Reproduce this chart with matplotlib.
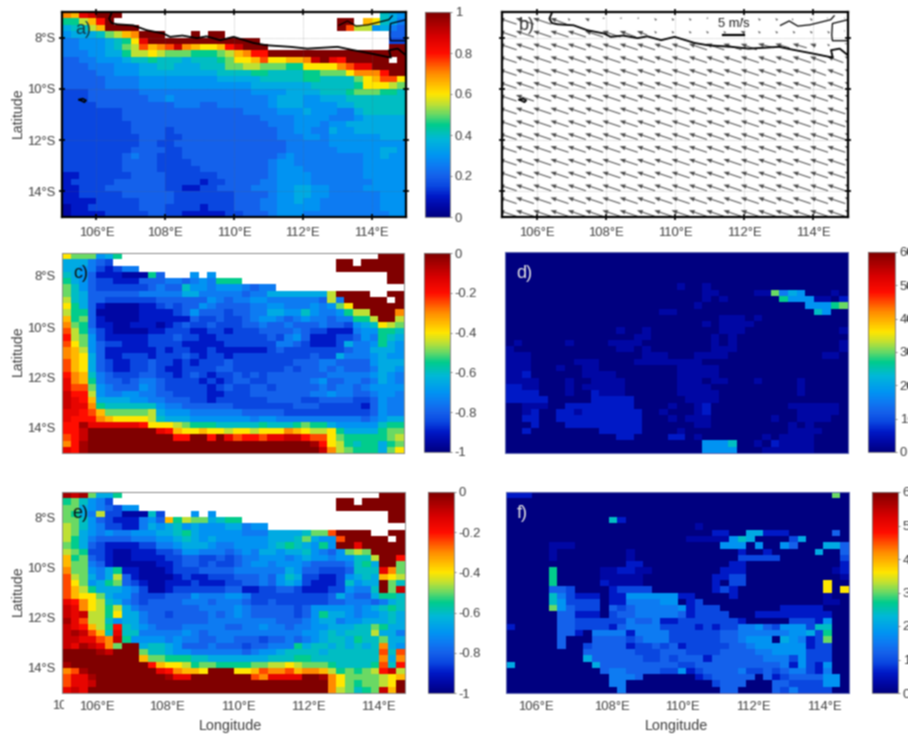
import numpy as np
import matplotlib
matplotlib.use('Agg')
import matplotlib.pyplot as plt
from matplotlib.colors import LinearSegmentedColormap
from matplotlib.transforms import Bbox

plt.rcParams['font.family'] = ['Liberation Sans', 'DejaVu Sans']

# grid cells, one string per 0.25 deg of latitude
# a=0, b=0.05 ... u=1 of the colour range, '.' = no data, missing tail = last char
chl_rows = [
 "onrsuuu... .......... .......... .......ihg",
 "jjlnqu.... .......... .......... ..uu.nmihf",
 "hiilnuuuu. .......... .......... ..upllghfe",
 "ghhhiklnou uu...u.uu. .......... ........ee",
 "ffggghijmr uuuuuuuuuu uuu....... ........dd",
 "ffggghiklp nopsonmmnq suuu...... ........uu",
 "fffgghhjll mlkkkjjjkl noqquuuuuu uuuuuuuuuu",
 "eeffggghii jiiihiiijk mmnpmmnnos urquuuuu.u",
 "eeefffgggh hiihhhiiik kllkkkjjmm mmoprruuuu",
 "eeeeffgggh hhhhhhhhii iijjiiiijj kkkmoooquu",
 "eeeeeffffg gggggggghh hhhiiiiijj iiiikmnppm",
 "eeeeeffffg gggggggggg gghhhhhhhi iiiijmmmlk",
 "dddeeeeeef ffffffffff ffggggh hhhiii jkkkjji",
 "dddeeeeeee ffgfffffff ffffghhhgg hhhiiiiiii",
 "ddddeeeeee eeefffeeff ffffghhhgg gghhiiiiii",
 "dddddddeee eeeeeeeeee effffggghg ggffhiiiii",
 "dddddddeee eeeeeeeeee eeeffffggg gfffghhhhh",
 "ddddddddee eeeeeeeeee eeeefffggg fgghhhhhhh",
 "dddddddde eeedeeeeeee eeeeeffggf fhgghhhhhh",
 "ddddddddde eedde eeeee eeeeefffgg fgggggghhh",
 "ddddddddde edde eeeeee eeeeeefffff ggggggggg",
 "ddddddddee eeddeeeeee eeeeeeffff ffggggghhg",
 "dddddddefe edddeeeeee eeeeefgfff fffffgghgg",
 "dddddddeee edddde eeee eeeefggfff fffffggggg",
 "dddddddeee eddddde eee eeeefgggff fffffggggg",
 "ccddddddee eeddddddee eeeefggggf fffffggggg",
 "cddddde eeeeeddddcddeeeeffggggfffffffgggg",
 "ccdddeeeee eeddccddee eefffgghhg gffffggggg",
 "ccdddddeee eeeddddddd eeeefgghhg gffffffggg",
 "ccccddddde eeeddddd dd eeeffgghgg fffffffggg",
 "bccddddd de eeddddcddd eeeffggggg fffffffggg",
 "bccccddddd eeddcccccd deeefgggff ffffffffgg",
]
coef_rows = [
 "mkkkghj... .......... .......... .......uuu",
 "hhhfed.... .......... .......... ..uu.uuuuu",
 "hhgfdcdff. .......... .......... ..uuuuuuuu",
 "ihgecccbbb je...g.g.. .......... ........uu",
 "jhgeddccce eeffefgfjj j......... ........uu",
 "kigedddddd efeeiggfgg gfeff..... ..........",
 "kiheeeeeef ffffhhffff feffhhhhhh hluuuu..uu",
 "liheeddddd deeeeeegfe ffggffffff elfuuuuu.u",
 "mjhecbbbbc cdedeegfee eeffggfffg fgkmuuuuuu",
 "ljjebbbbbc cccdegeeed eeffhhggig ffgjlluuuo",
 "njkecbbbbc cccccedded defggfefgf feffjjluul",
 "okjeccbbcc cbcdeddedd deefeefeee feedghimlk",
 "pljfdcbbbb ccdddccddc dddeeeefed dcccfggjji",
 "qlkgdccccc dddeddccdd ddddedfgec ccddegfjih",
 "pmkgeddccc ddddcccccd dddddffedc ccdhffgjhg",
 "onlgeccccc cdcddccdcc ccccdedddd dddeffhhhg",
 "onmheccddd cdddedcddc ddddddddde ddhfffghgg",
 "pnmhedccdd eddcdcddde dddddddeee ffeeeeghhh",
 "pnmhedccdd edccddddee ddddddedee fefeeefhhg",
 "qonifeddde eddcdedcdd ededeeeeee efffffghgf",
 "ronjfeedef feddddcdcd eeddeeeeef geeffefhgf",
 "rppkgfeeeg fedddddcd edde edeeeee feffefgggg",
 "sqqlgffggf feeddddccd ddeeeeeeef fgffeefggf",
 "srqnhhhhgg ffeee ddcdd ddddeeeedd eeeedd egff",
 "srrojiiiii igffeeeeee dddddddeee dddddcegff",
 "rrqpnkkkkk lhgggffff ffeeeeeddd ddddddd egff",
 "rqqqonmmmm lihhhggggg ggfggfffff fffffefghh",
 "qqtrrrrrrq mmmlkjjjii iiijiiijkj jhgggggijj",
 "qqsuuuuuuu urqnmmnmml mmlmmmonml lmjhhhhjkk",
 "pqsuuuuuuu uuuqquuqur pqqprrssqp pmkjjjjjkl",
 "oqtuuuuuuu uuuuuuuuuu uuuuuuuuut qmljijjhjk",
 "rqtuuuuuuu uuuuuuuuuu uuuuuuuuuu solkjjjhkm",
]
speed_rows = [
 "a", "a", "a", "a", "a",
 "aaaaaaaaaa aaaaaaaaaa baabaaaaaa a",
 "aaaaaaaaaa aaaaaaaaaa aaabbaaaab bkfhgaaaba",
 "aaaaaaaaaa aaaaaaaaaa aaababaaaa aajgggbbac",
 "aaaaaaaaaa aaaaaaaaaa aabaaaaaaa aaaaagggjk",
 "aaaaaaaaaa aaaaaaaabb aaaaaaaaaa aaaaaaigaa",
 "aaaaaaaaaa aaaaaaaaaa aaaaabbbab aaaaaaaaaa",
 "aaaaaaaaaa aaaaaaaaaa aaababbbba aaaaaaaaaa",
 "aaaaaaaaaa aaabaabaaa aaaaabbbaa aaaaaaaaab",
 "aaaaaaaaaa aaaaabbaaa aaaababaaa aaaaaaaaaa",
 "abaaaaabaa aabbbbaaaa aaaababaaa aaaaaaaaab",
 "baaaaaaaaa aaabbabaaa aaaabbbaaa aaaaaaaaab",
 "bbbaaaaaaa aaaaaabbba aabbbbaaaa aaaaaaabba",
 "bbbaaaaabb baaaabbbbb bbbaaaaaaa aaaaaaaaaa",
 "bbbaaabaab baaaaaaaaa bbbbbaaaaa aaaaaaaaaa",
 "bbcaaaaaab bbbaaaaaaa bbbbbaaaaa aaaaaaaaaa",
 "bbbbaaabaa bbbbaaaaaa bbbabbaaab aaaabaaaaa",
 "ccbbaaabab bbbbaaaaaa bbbbaaaaaa aaaabaaaaa",
 "ccccaaabaa cbbbaaaaaa bbbbbaaaaa aaaabaaaaa",
 "cccccaaaaa cccccaaaaa abbbbaaaaa aaaaaaaaaa",
 "aabbbaaccc cccccaaaab aabcaaaaaa aaabbbbbba",
 "aabcaaccbc ccccccaaba aabcaaaaaa aaaabbbbba",
 "aaccaacccc ccccccaaab abbbaaaaaa abaabbbbaa",
 "aaacaaaccc ccccccaaaa aabbaaaaaa aaababaaaa",
 "aacaaaaaaa acccccaaaa baaaaaaaaa aaabbbbaaa",
 "aaaaaaaaaa aaaccaaaac cabaaaaaaa babbbbaaaa",
 "aaaaaaaaaa aaaaaaaaaa aaagggiaab acbbbbaaaa",
 "aaaaaaaaaa aaaaaaaaaa aaaggggaaa bbbbbbaaaa",
]
coef2_rows = [
 "tstkhhj... .......... .......... .......uuu",
 "jkigfd.... .......... .......... ..uu.uuuuu",
 "kkhgfedgg. .......... .......... ..uuuuuuuu",
 "kjhflddbbb id...g.g.. .......... ........uu",
 "kkigedcccf genjlkkhij j......... ........uu",
 "lkigfddccf hghighgggh hfgg...... ..........",
 "lkhgfgffgg ghhijhgggg gfffhhhhik kpuuuu..uu",
 "ljhfeeeeff fgghihghgg gggghhhikh ggpuuuuu.u",
 "kjhedccccd dffghhhgff gggghijihg jguuruuuu",
 "lkjddcbbcc cddeggfffe fgfhhghhig fegklkuuuu",
 "njkedcbbcc ccddeedded effgggfghg gfggiiluuq",
 "nkkfecbbbb bccdeededd efggfgggfe eeefijhuuk",
 "okkgfhjccb bbcdddeeee ffffffhgee dddeiiirok",
 "plkhfhlecb bbbcdccddd eeefegihdd ccdghihnml",
 "pmkghjkedc bbcccdcccd deefeghgdc ccdighhuki",
 "pnljhhhgfd bbcdddddde eccddeedcc cddgffiuks",
 "pnmmkhgged ddeeegfffg gfdddddddd dehfeehjji",
 "rqomlihfed eeeefffeff feddeddddd deefffefhi ij",
 "sromljlhfe eeeeeeffff gfeeeeedeg ggggfghiji",
 "srslljmhhf eedeeeefef gfeeeeedeg jhhgfgghih",
 "trpllighhf eeeeeeefff fffffeeefg hhfgghhhih",
 "srqnljqihg feeefffffe effgffeffg ghhhiikjhh",
 "stspnirii fffffgfeffff fffffffggh ihiiilhhf",
 "ssrrposjgg ggfgffeeff eeedeefefg hiihjiikhh",
 "srtsrokuuh iihgeeefee edeefffjhi ihihihiohg",
 "uuuutsuuuk iihggfffff fefgghiiii hiiiiiipip",
 "uuuuuuuuun kkjjjiihhh hhhhiiijji iiiiiiioho",
 "tuuuuuuuuu qnmmljkkjj jjkkllmlkk kjiiiijpiq",
 "optuuuuuuu urqonnmuuu mmnpoopnoo nljkjklqsl",
 "prrtuuuuuu uutrruuuuu uuporrrruu tomkkkklmn",
 "prrsuuuuuu uuuuuuuuuu uuuuuuuuuu uomkjkklmu",
 "rsruuuuuuu uuuuuuuuuu uuuuuuuuuu uolkijksnu",
]
speed2_rows = [
 "cccaaaaaaa aaaaaaaaaa aaaaaaaaaa aaaaaaaaka",
 "a", "a", "a",
 "aaaaaaaaaa aaicaaaaaa a",
 "aaaaaaaaaa aaaaaaaaaa aabaaaaaaa a",
 "aaaaaaaaaa aaaaaaaaaa aaaaccaahh cccaaaaaea",
 "aaaaaaaaaa aaaaaaaaaa abbbbbgiha aaadhaaaaa",
 "aaaaabbbaa aaaaaaaaaa aaaaagggag aageaaahhe",
 "aaaaabaaaa aaaabaaaaa aaaaaaacaa caaaaahaae",
 "aaaaabaaaa aaaabaaaaa aaaaaaaddd ddaaaaaaad",
 "aaaaaaaaaa aaaaccaaaa aaaaaaccaa aaaaaaaaac",
 "aaaaajaaaa abbccbbaaa aaaaacccaa aaaaaaaabc",
 "aaaaajaaaa abbbbbaaaa aaaaccddaa aaaaaaaaab",
 "aaaaajaaaa acbbbbaaaa aaaacaddaa aaaaaaamaa",
 "aaaaaeedaa aacddddaaa aaaacdcaaa aaaaaaamam",
 "aaaaaifdcc caccgggggg ccaaaacaaa aaaaaaabaa",
 "aaaaaigddd daccffffgg acdaaaaaaa aaaaaaabba",
 "aaaaakgedd daedefffff gcdddaaaaa aacccccaaa",
 "aaaaaaeecc cadeefffff ecddddaaac ccccccccaa",
 "aaaaaaeedd ddddfeefcc dddddddcaa aaadddcgaa",
 "caaaaaeedd ddceffffdd ddcdcddffg edgggdiiaa",
 "aaaaaaeeca ffffcffffd dddddeefff fffgghdjaa",
 "aaaaaaeaaa eeeedefffd dddddeefgg gahgfcdkaa",
 "aaaaaaeaad eeeecddede cdddddeefg gggggcddaa",
 "aaaaaaaaae eeeeedddee eddddeeeef fggggdddaa",
 "aaaaaaaaah eeeeeedded eeeceeeeee fffdgdddaa",
 "haaaaaaaaa heeeeeeeee ddeeeeeeee eefcgdcgaa",
 "aaaaaaaaaa aeffeeeedd gcdeeeefdd edeffdcfaa",
 "aaaaaaaaaa aafffeaaaa aacdeeeeea ecdeeeegga",
 "aaaaaaaaaa aaffaaaaaa aaaadeeeaa aeeddddgga",
 "aaaaaaaaaa aaafaaaaaa aaaaaeeaaa aedfddddaa",
]

# wind, 0.5 m/s per letter step
wind_lon = [104.9, 105.4, 105.9, 106.4, 106.9, 107.4, 107.9, 108.4, 108.9, 109.4, 109.9,
            110.4, 110.9, 111.4, 111.9, 112.4, 112.9, 113.4, 113.9, 114.4, 114.9]
wind_lat = [7.24, 7.74, 8.24, 8.74, 9.24, 9.74, 10.24, 10.74, 11.24, 11.74, 12.24, 12.74,
            13.24, 13.74, 14.24, 14.74]
wind_u_rows = [
 "jjjibcbbbbbbbabbbabaa", "jjjjjjjifbbbbbcbbbbba", "jjjjjjjjjjjjjjiihhdbb",
 "jjjjjjjjjjjjjjjjjjiii", "jjjjjjjjjjjjjjjjjjiii", "jjjjjjjjjjjjjjjjjjiii",
 "jjjjjjjjjjjjjjjjjjjii", "jjjjjjjjjjjjjjjjjjjji", "jjjjjjjjjjjjjjjjjjjji",
 "jjjjjjjjjjjjjjjjjjjjj", "jjjjjjjjjjjjjjjjjjjjj", "jjjjjjjjjjjjjjjjjjjjj",
 "jjjjjjjjjjjjjjjjjjjjj", "jjjjjjjjjjjjjjjjjjjjj", "jjjjjjjjjjjjjjjjjjjjj",
 "jjjjjjjjjjjjjjjjjjjjj",
]
wind_v_rows = [
 "ddddbbaaabbbaabbbbbaa", "ddddddddcbbbbbbbbbbba", "dddddddddddddddcccbba",
 "ddddddddddddddddddddd", "ddddddddddddddddddddd", "ddddddddddddddddddddd",
 "ddddddddddddddddddddd", "ddddddddddddddddddddd", "ddddddddddddddddddddd",
 "ddddddddddddddddddddd", "ddddddddddddddddddddd", "ddddddddddddddddddddd",
 "ddddddddddddddddddddd", "ddddddddddddddddddddd", "ddddddddddddddddddddd",
 "ddddddddddddddddddddd",
]

coast_lon = [106.44, 106.37, 106.44, 106.6, 107.07, 107.46, 107.95, 108.14, 108.5, 108.92, 109.2, 109.6,
             109.99, 110.57, 110.96, 111.64, 112.13, 113.01, 113.4, 113.98, 114.56, 114.51, 114.76, 115]
coast_lat = [7.04, 7.26, 7.43, 7.48, 7.52, 7.71, 7.84, 7.97, 7.92, 8.02, 7.95, 8.1,
             7.97, 8.21, 8.3, 8.36, 8.43, 8.36, 8.47, 8.62, 8.78, 8.49, 8.43, 8.69]
bali_lon = [115, 114.55, 114.53, 114.55, 115]
bali_lat = [7.3, 7.45, 7.9, 8.12, 8.12]
madura_lon = [113.05, 113.3, 113.55, 113.9, 114.5, 114.6]
madura_lat = [7.52, 7.35, 7.55, 7.5, 7.3, 7.15]
island_lon = [105.5, 105.6, 105.7, 105.65, 105.5]
island_lat = [10.42, 10.38, 10.45, 10.52, 10.42]

lon_ticks = [106, 108, 110, 112, 114]
lon_labels = ['106°E', '108°E', '110°E', '112°E', '114°E']
lat_ticks = [8, 10, 12, 14]
lat_labels = ['8°S', '10°S', '12°S', '14°S']
e_label_lon = [106.02, 108.06, 110.13, 112.17, 114.23]
f_label_lon = [105.87, 108.09, 110.13, 112.2, 114.27]
chl_ticks = [0, 0.2, 0.4, 0.6, 0.8, 1]
chl_labels = ['0', '0.2', '0.4', '0.6', '0.8', '1']
coef_ticks = [-1, -0.8, -0.6, -0.4, -0.2, 0]
coef_labels = ['-1', '-0.8', '-0.6', '-0.4', '-0.2', '0']
speed_ticks = [0, 10, 20, 30, 40, 50, 60]
speed_labels = ['0', '10', '20', '30', '40', '50', '60']

W, H = 908, 734
TXT = '#404040'
FS = 9.4

cmap = LinearSegmentedColormap.from_list('map', [
    (0, (0, 0, .5)), (.05, (0, .03, .65)), (.1, (0, .1, .78)), (.15, (.04, .28, .88)), (.2, (.08, .38, .92)),
    (.25, (.05, .48, .95)), (.3, (0, .58, .95)), (.38, (0, .72, .85)), (.45, (0, .8, .55)), (.5, (.4, .85, .4)),
    (.55, (.75, .88, .2)), (.6, (1, .9, 0)), (.7, (1, .55, 0)), (.8, (1, .05, 0)), (.88, (.85, 0, 0)), (1, (.5, 0, 0))])


def decode(rows):
    out = []
    for r in rows:
        r = r.replace(' ', '')
        r = r[:40].ljust(40, r[-1])
        out.append([np.nan if c == '.' else (ord(c) - 97) * 0.05 for c in r])
    return np.array(out)


def px_axes(l, t, r, b):
    return fig.add_axes([l / W, 1 - b / H, (r - l) / W, (b - t) / H])


def px_text(x, y, s, **kw):
    return fig.text(x / W, 1 - y / H, s, **kw)


def panel(box, cbox, grid, vmin, vmax, cticks, clabels, edge):
    ax = px_axes(*box)
    lon = np.arange(41) * 0.25 + 105
    lat = -(np.arange(33) * 0.25 + 7)
    m = ax.pcolormesh(lon, lat, np.ma.masked_invalid(grid * (vmax - vmin) + vmin), cmap=cmap, vmin=vmin, vmax=vmax)
    ax.set_xlim(105, 115)
    ax.set_ylim(-15, -7)
    for s in ax.spines.values():
        s.set_color(edge)
        s.set_linewidth(0.7)
    ax.set_xticks([])
    ax.set_yticks([])
    cax = px_axes(*cbox)
    cb = fig.colorbar(m, cax=cax, ticks=cticks)
    cb.ax.set_yticklabels(clabels, fontsize=FS, color=TXT)
    cb.ax.tick_params(length=1.5, width=0.5, color='#555555', pad=2)
    cb.outline.set_edgecolor('#777777')
    cb.outline.set_linewidth(0.6)
    return ax


def lat_axis(ax, ticks=lat_ticks):
    ax.set_yticks([-t for t in ticks])
    ax.set_yticklabels(lat_labels, fontsize=FS, color=TXT)
    ax.tick_params(axis='y', length=0, pad=5)


def lon_axis(ax, ticks):
    ax.set_xticks(ticks)
    ax.set_xticklabels(lon_labels, fontsize=FS, color=TXT)
    ax.tick_params(axis='x', length=0, pad=6)


def map_frame(ax):
    for s in ax.spines.values():
        s.set_color('black')
        s.set_linewidth(1.6)
    ax.set_xticks(lon_ticks)
    ax.set_xticklabels(lon_labels, fontsize=FS, color=TXT)
    ax.set_yticks([-t for t in lat_ticks])
    ax.tick_params(top=True, right=True, direction='inout', length=4, width=1.2, pad=5)
    ax.grid(True, color='#666666', linestyle=':', linewidth=0.5, alpha=0.6)


def coast(ax):
    ax.plot(coast_lon, [-v for v in coast_lat], color='black', lw=1.3, zorder=4)
    ax.plot(bali_lon, [-v for v in bali_lat], color='black', lw=0.9, zorder=4)
    ax.plot(madura_lon, [-v for v in madura_lat], color='black', lw=0.9, zorder=4)
    ax.plot(island_lon, [-v for v in island_lat], color='black', lw=1.2, zorder=4)


fig = plt.figure(figsize=(W / 100, H / 100), dpi=100)

# a
ax_a = panel((62, 12, 406, 217), (425, 12, 450, 217), decode(chl_rows), 0, 1, chl_ticks, chl_labels, 'black')
map_frame(ax_a)
ax_a.set_yticklabels(lat_labels, fontsize=FS, color=TXT)
ax_a.tick_params(axis='y', pad=3)
coast(ax_a)

# b wind
ax_b = px_axes(502, 12, 848, 217)
U = np.array([[(ord(c) - 97) * -0.5 for c in r] for r in wind_u_rows])
V = np.array([[(ord(c) - 97) * 0.5 for c in r] for r in wind_v_rows])
ax_b.quiver(wind_lon, [-v for v in wind_lat], U, V, pivot='tip', angles='uv', scale_units='x', scale=8.6,
            units='dots', width=1.0, headwidth=4.5, headlength=6, headaxislength=5.5, color='#4a4a4a')
ax_b.set_xlim(105, 115)
ax_b.set_ylim(-15, -7)
map_frame(ax_b)
ax_b.set_yticklabels([])
coast(ax_b)
ax_b.plot([111.4, 111.98], [-7.88, -7.88], color='black', lw=1.6)
ax_b.text(111.7, -7.48, '5 m/s', fontsize=FS, color='#222222', ha='center', va='center')

# c, d
ax_c = panel((62, 253, 404, 453), (424, 253, 450, 452), decode(coef_rows), -1, 0, coef_ticks, coef_labels, '#888888')
lat_axis(ax_c, [7.88, 10, 12, 14])
ax_d = panel((505, 252, 848, 453), (868, 252, 895, 452), decode(speed_rows), 0, 60, speed_ticks, speed_labels, '#5a66b0')

# e, f
ax_e = panel((62, 492, 405, 693), (428, 492, 454, 693), decode(coef2_rows), -1, 0, coef_ticks, coef_labels, '#888888')
lat_axis(ax_e)
lon_axis(ax_e, e_label_lon)
ax_f = panel((506, 492, 849, 693), (872, 492, 898, 693), decode(speed2_rows), 0, 60, speed_ticks, speed_labels, '#5a66b0')
lon_axis(ax_f, f_label_lon)

for y in (113, 351, 591):
    px_text(18, y, 'Latitude', fontsize=10.2, color=TXT, rotation=90, ha='center', va='center')
px_text(230, 726, 'Longitude', fontsize=10.4, color=TXT, ha='center', va='center')
px_text(677, 726, 'Longitude', fontsize=10.4, color=TXT, ha='center', va='center')

# the cut off first label under panel e
cut = px_text(52, 706, '105°E', fontsize=FS, color=TXT, ha='left', va='center', clip_on=True)
cut.set_clip_box(Bbox([[0, 0], [64, H]]))

for x, y, s, c in [(75, 29, 'a)', '#123a4a'), (519, 25, 'b)', '#333333'), (73, 273, 'c)', '#111111'),
                   (516, 273, 'd)', '#e4e4e4'), (72, 514, 'e)', '#111111'), (517, 513, 'f)', '#e4e4e4')]:
    px_text(x, y, s, fontsize=13, color=c, ha='left', va='center')

fig.savefig('out.png', dpi=100)

# the reference is a soft scan, take the edge off
img = plt.imread('out.png')[:, :, :3]
soft = np.pad(img, ((1, 1), (1, 1), (0, 0)), mode='edge')
soft = 0.25 * soft[:-2, 1:-1] + 0.5 * soft[1:-1, 1:-1] + 0.25 * soft[2:, 1:-1]
soft = np.pad(soft, ((0, 0), (1, 1), (0, 0)), mode='edge')
soft = 0.25 * soft[:, :-2] + 0.5 * soft[:, 1:-1] + 0.25 * soft[:, 2:]
plt.imsave('out.png', soft)
